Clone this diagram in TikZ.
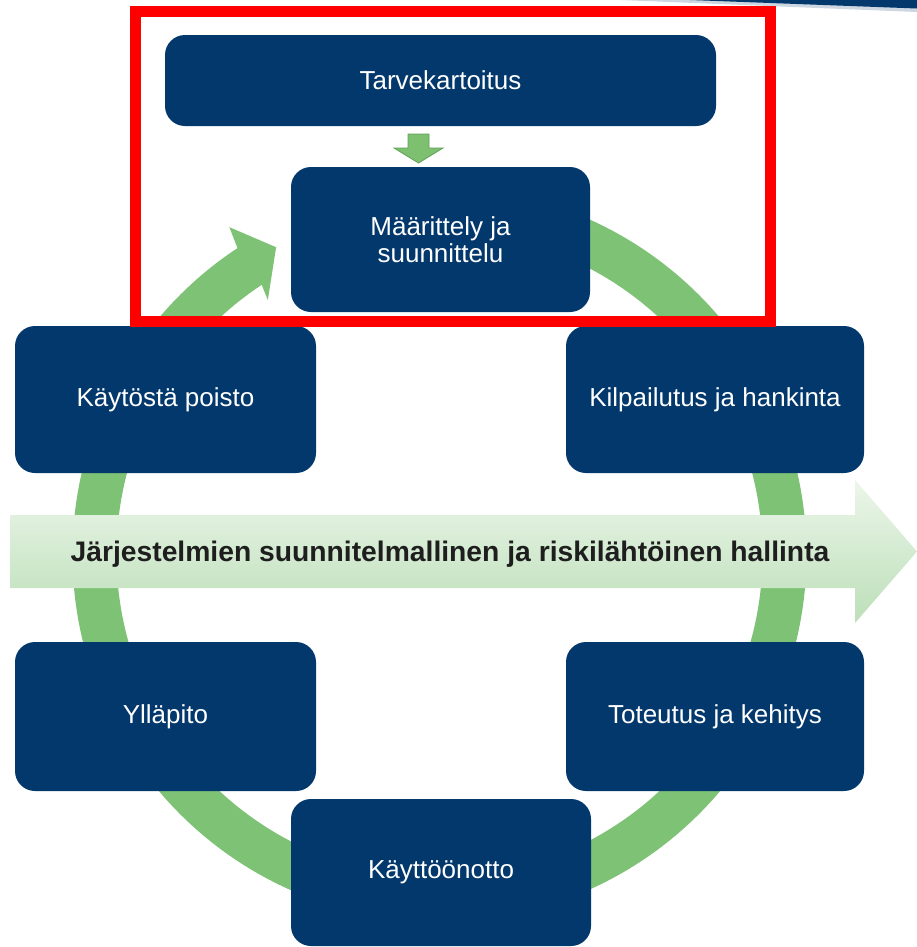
\documentclass[tikz,border=0pt]{standalone}
\usepackage{fontspec}
\setmainfont{Liberation Sans}
\definecolor{boxblue}{RGB}{3,56,108}
\definecolor{ringgreen}{RGB}{126,194,117}
\definecolor{arrgreen}{RGB}{124,192,112}
\definecolor{arredge}{RGB}{98,160,88}
\definecolor{bandtop}{RGB}{236,246,234}
\definecolor{bandbot}{RGB}{188,223,184}
\definecolor{textdark}{RGB}{30,30,30}
\definecolor{framered}{RGB}{255,0,0}
\begin{document}
\begin{tikzpicture}[x=0.75pt,y=-0.75pt,
  stagebox/.style={fill=boxblue, rounded corners=15pt, text=white,
    font=\fontsize{19.5}{20.5}\selectfont, align=center, inner sep=0pt},
  ringstyle/.style={ringgreen, line width=33pt},
  smallarrow/.style={fill=arrgreen, draw=arredge, line width=0.6pt, line join=miter},
  bigarrow/.style={top color=bandtop, bottom color=bandbot, draw=none},
  framestyle/.style={draw=framered, line width=8.25pt}
  ]
\useasboundingbox (0,0) rectangle (917,947);
\fill[white] (0,0) rectangle (917,947);

% top-right band
\fill[boxblue!20] (620,0) -- (917,0) -- (917,12) -- cycle;
\fill[boxblue] (690,0) -- (917,0) -- (917,8.5) -- cycle;

% cycle ring with arrow head
\begin{scope}[shift={(439.5,554.5)}]
  \draw[ringstyle] (-90:345) arc[start angle=-90, end angle=237, radius=345];
  \fill[ringgreen] (236.6:367) -- (237.3:389) -- (242:348) -- (236:307) -- (236.6:323) -- cycle;
\end{scope}

% horizontal band arrow
\path[bigarrow] (10,515) -- (855,515) -- (855,480) -- (917,551.5) -- (855,623) -- (855,588) -- (10,588) -- cycle;
\node[font=\bfseries\fontsize{21.2}{24}\selectfont, text=textdark, anchor=base, inner sep=0pt]
  (band) at (450,561.5) {Järjestelmien suunnitelmallinen ja riskilähtöinen hallinta};

% boxes
\node[stagebox, minimum width=413.25pt, minimum height=68.25pt] (tarve) at (440.5,80.5) {Tarvekartoitus};
\node[stagebox, minimum width=224.25pt, minimum height=108.75pt] (maar) at (440.5,239.5) {Määrittely ja\\suunnittelu};
\node[stagebox, minimum width=225.75pt, minimum height=110.25pt] (poisto) at (165.5,399.5) {Käytöstä poisto};
\node[stagebox, minimum width=223.5pt, minimum height=110.25pt] (kilp) at (715,399.5) {Kilpailutus ja hankinta};
\node[stagebox, minimum width=225.75pt, minimum height=111.75pt] (yllapito) at (165.5,716.5) {Ylläpito};
\node[stagebox, minimum width=223.5pt, minimum height=111.75pt] (toteutus) at (715,716.5) {Toteutus ja kehitys};
\node[stagebox, minimum width=225pt, minimum height=110.25pt] (kaytto) at (441,872.5) {Käyttöönotto};

% small arrow between tarve and maar
\path[smallarrow] (408,134) -- (429,134) -- (429,148) -- (443,148) -- (418.5,163) -- (394,148) -- (408,148) -- cycle;

% red frame
\draw[framestyle] (135.5,11.5) rectangle (770.5,321.5);
\end{tikzpicture}
\end{document}
